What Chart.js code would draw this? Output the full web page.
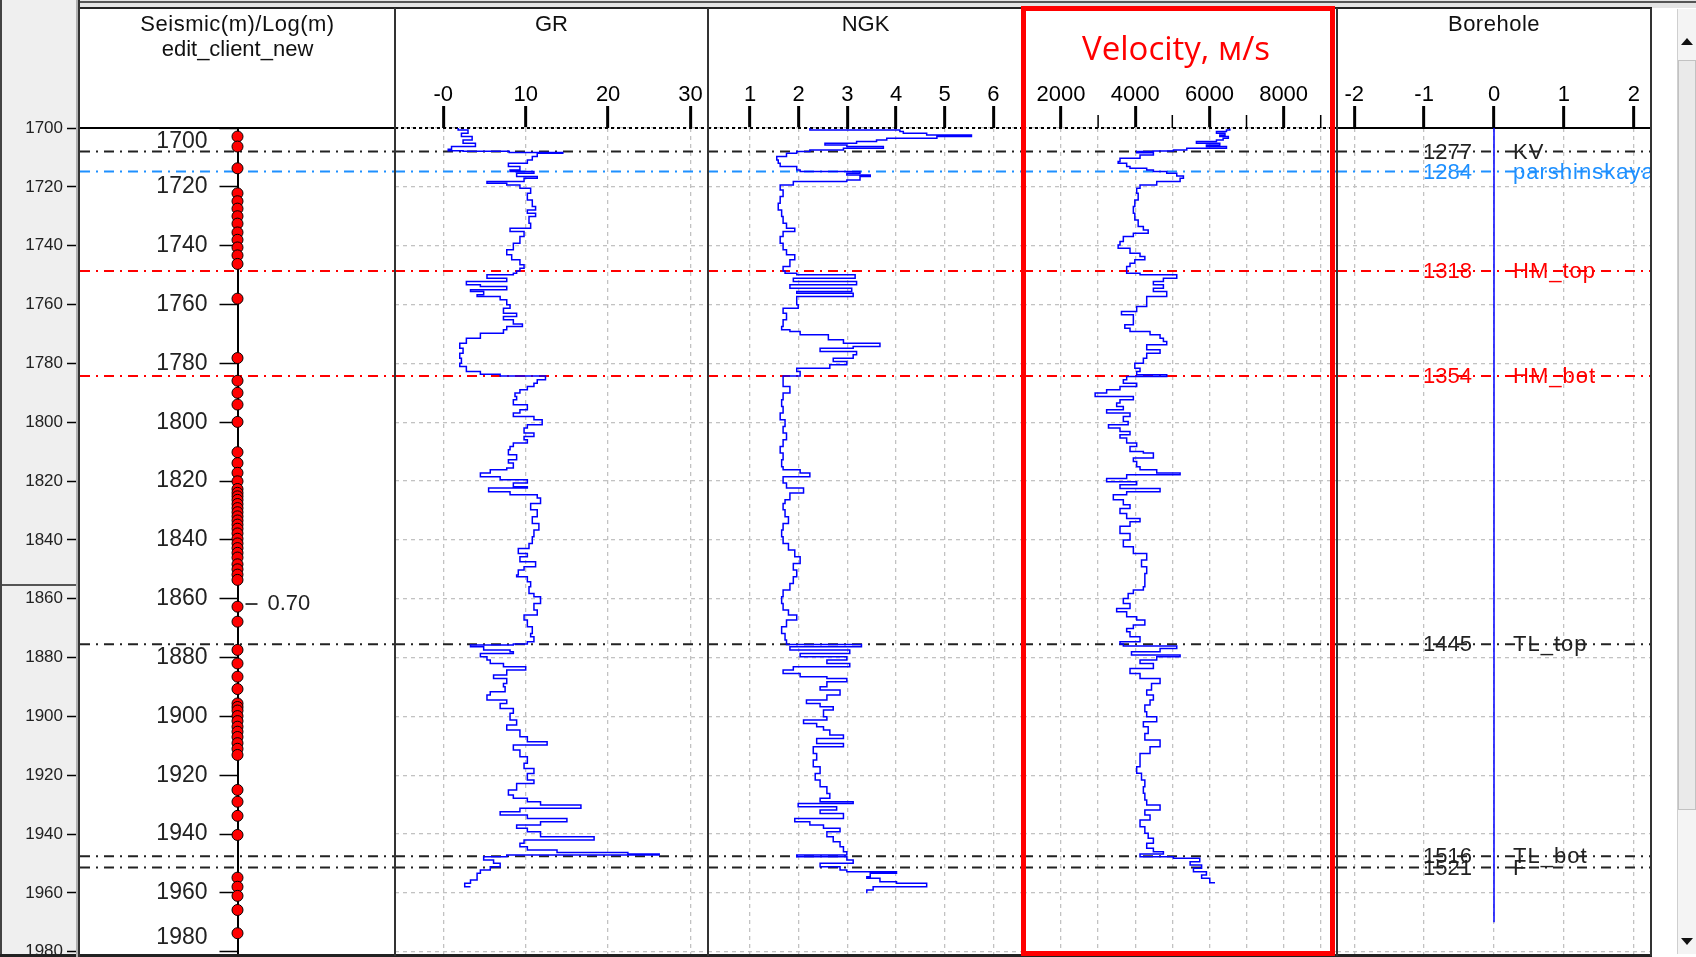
<!DOCTYPE html>
<html>
<head>
<meta charset="utf-8">
<title>Well log</title>
<script src="https://cdn.jsdelivr.net/npm/chart.js@4.4.1/dist/chart.umd.min.js"></script>
<style>
  html, body { margin: 0; padding: 0; }
  body { width: 1696px; height: 957px; position: relative; overflow: hidden; background: #fff; font-family: 'Liberation Sans', Arial, sans-serif; }
  canvas, .box, .hdr { position: absolute; }
  .hdr { top: 13px; font-size: 22px; line-height: 22px; text-align: center; color: #111; white-space: nowrap; }
  .sep { position: absolute; top: 8px; width: 2px; height: 948px; background: #333; }
</style>
</head>
<body>
  <!-- window chrome -->
  <div class="box" style="left:0;top:0;width:1696px;height:8px;background:#e4e4e4"></div>
  <div class="box" style="left:0;top:1px;width:1696px;height:2px;background:#555"></div>
  <div class="box" style="left:0;top:0;width:80px;height:957px;background:#efefef"></div>
  <div class="box" style="left:0;top:0;width:2px;height:957px;background:#444"></div>
  <div class="box" style="left:2px;top:584px;width:76px;height:2px;background:#555"></div>

  <canvas id="seis" width="395" height="957" style="left:0;top:0"></canvas>
  <canvas id="gr" width="313" height="957" style="left:395px;top:0"></canvas>
  <canvas id="ngk" width="315" height="957" style="left:708px;top:0"></canvas>
  <canvas id="vel" width="314" height="957" style="left:1023px;top:0"></canvas>
  <canvas id="bore" width="314" height="957" style="left:1337px;top:0"></canvas>

  <!-- frame -->
  <div class="box" style="left:80px;top:7px;width:1572px;height:2px;background:#222"></div>
  <div class="box" style="left:0;top:954px;width:1652px;height:3px;background:#222"></div>
  <div class="box" style="left:76px;top:0;width:2px;height:957px;background:#b0b0b0"></div>
  <div class="sep" style="left:78px;top:0;height:957px;background:#333"></div>
  <div class="sep" style="left:394px"></div>
  <div class="sep" style="left:707px"></div>
  <div class="sep" style="left:1022px"></div>
  <div class="sep" style="left:1336px"></div>
  <div class="sep" style="left:1650px"></div>

  <!-- scrollbar -->
  <div class="box" style="left:1677px;top:9px;width:19px;height:945px;background:#f4f4f4;border-left:1px solid #cfcfcf"></div>
  <div class="box" style="left:1678px;top:60px;width:16px;height:748px;background:#eaeaea;border:1px solid #c2c2c2"></div>
  <div class="box" style="left:1681px;top:38px;width:0;height:0;border-left:6px solid transparent;border-right:6px solid transparent;border-bottom:7px solid #111"></div>
  <div class="box" style="left:1681px;top:938px;width:0;height:0;border-left:6px solid transparent;border-right:6px solid transparent;border-top:7px solid #111"></div>

  <!-- headers -->
  <div class="hdr" style="left:80px;width:315px;letter-spacing:0.5px">Seismic(m)/Log(m)</div>
  <div class="hdr" style="left:80px;width:315px;top:38px">edit_client_new</div>
  <div class="hdr" style="left:395px;width:313px">GR</div>
  <div class="hdr" style="left:708px;width:315px">NGK</div>
  <div class="hdr" style="left:1337px;width:314px;letter-spacing:0.5px">Borehole</div>
  <div class="hdr" style="left:1019px;width:314px;top:31px;font-family:'Open Sans',sans-serif;font-size:33px;line-height:33px;color:#ff0000">Velocity, м/s</div>

  <div class="box" style="left:1021px;top:6px;width:314px;height:950px;box-sizing:border-box;border:5px solid #ff0000"></div>

<script>
Chart.defaults.font.family = "'Liberation Sans', Arial, sans-serif";
Chart.defaults.color = '#000';

// depth window
const depthTop = 1700;
const depthBase = 1981.1;
const depthTicks = [1700, 1720, 1740, 1760, 1780, 1800, 1820, 1840, 1860, 1880, 1900, 1920, 1940, 1960, 1980];

// formation tops
const topNames = ['KV', 'parshinskaya', 'HM_top', 'HM_bot', 'TL_top', 'TL_bot', 'F'];
const topDepths = [1708.0, 1714.8, 1748.6, 1784.3, 1875.5, 1947.5, 1951.4];
const topTvd = ['1277', '1284', '1318', '1354', '1445', '1516', '1521'];
const topColors = ['#222', '#1e90ff', '#ff0000', '#ff0000', '#222', '#222', '#222'];

// seismic / log tie points
const seisDepth = [1702.9, 1706.3, 1713.7, 1722.2, 1724.9, 1727.4, 1730.0, 1732.5, 1735.5, 1738.0, 1740.6, 1743.3, 1746.2,
  1758.0, 1778.2, 1785.9, 1790.0, 1794.0, 1799.9, 1810.2, 1813.9, 1817.2, 1820.1, 1822.7, 1824.0, 1825.2, 1826.4,
  1827.8, 1829.2, 1830.6, 1832.0, 1833.4, 1834.8, 1836.2, 1837.8, 1839.6, 1841.2, 1842.8, 1844.4, 1846.0, 1848.3,
  1850.0, 1851.8, 1853.6, 1862.7, 1867.8, 1877.4, 1882.0, 1886.5, 1890.7, 1895.6, 1896.8, 1898.0, 1899.9, 1901.6,
  1903.5, 1905.2, 1907.0, 1909.1, 1911.0, 1913.1, 1925.0, 1929.0, 1933.8, 1940.3, 1954.8, 1957.9, 1961.0, 1965.8, 1973.7];
const seisNoteDepth = 1861.8;
const seisNoteText = '0.70';

// GR
const grTicks = [0, 10, 20, 30];
const grLabels = ['-0', '10', '20', '30'];
const grDepth = [1700.0, 1700.7, 1701.8, 1702.9, 1704.1, 1705.2, 1706.3, 1707.2, 1707.7, 1707.9,
  1708.3, 1708.6, 1709.7, 1710.9, 1712.0, 1713.1, 1714.3, 1714.8, 1715.4, 1716.5,
  1717.1, 1718.2, 1718.8, 1719.4, 1720.5, 1722.2, 1724.5, 1726.7, 1727.9, 1729.0,
  1730.1, 1732.4, 1734.1, 1735.2, 1736.9, 1739.2, 1741.4, 1743.1, 1744.8, 1746.5,
  1747.7, 1748.6, 1749.4, 1749.9, 1751.1, 1752.2, 1753.3, 1753.9, 1755.0, 1755.6,
  1756.7, 1757.3, 1758.4, 1760.1, 1761.3, 1763.0, 1764.1, 1765.2, 1766.6, 1767.5,
  1768.6, 1769.8, 1770.9, 1771.5, 1773.2, 1774.9, 1776.6, 1778.3, 1780.0, 1781.1,
  1782.8, 1783.7, 1784.3, 1785.6, 1786.8, 1787.9, 1789.0, 1790.1, 1791.3, 1792.4,
  1794.1, 1795.8, 1796.9, 1798.1, 1799.2, 1800.9, 1802.0, 1803.7, 1804.9, 1806.0,
  1807.1, 1808.3, 1809.4, 1811.1, 1812.8, 1813.9, 1815.6, 1816.2, 1817.3, 1818.5,
  1819.6, 1820.7, 1821.9, 1822.4, 1823.6, 1824.7, 1825.8,
  1827.6, 1829.8, 1832.1, 1834.4, 1836.6, 1838.9, 1841.2, 1842.9, 1844.6, 1845.7,
  1847.4, 1849.1, 1850.2, 1851.9, 1852.5, 1854.2, 1855.9, 1858.2, 1859.3, 1861.6,
  1863.8, 1865.5, 1867.2, 1869.5, 1871.8, 1872.9, 1874.6, 1875.4, 1875.7, 1876.3,
  1877.4, 1878.0, 1878.6, 1879.7, 1880.8, 1882.0, 1883.1, 1884.2, 1885.9, 1887.1,
  1888.8, 1889.9, 1891.6, 1892.7, 1894.4, 1895.6, 1897.3, 1898.9, 1901.2, 1902.9,
  1904.6, 1906.9, 1908.6, 1909.7, 1911.4, 1913.7, 1915.9, 1917.7, 1919.4, 1921.6,
  1922.8, 1925.0, 1926.7, 1927.8, 1929.0, 1930.1, 1931.2, 1932.4, 1933.5, 1934.7,
  1935.8, 1936.9, 1938.0, 1939.2, 1940.9, 1942.0, 1943.1, 1944.3, 1945.4, 1946.3,
  1946.8, 1947.1, 1947.7, 1948.8, 1949.9, 1951.1, 1952.2, 1953.3, 1954.5, 1955.6,
  1956.7, 1957.9];
const grValue = [1.8, 3.0, 2.2, 3.5, 2.4, 3.9, 1.0, 0.6, 2.4, 8.0,
  14.5, 11.4, 10.8, 10.2, 7.9, 9.3, 8.1, 11.0, 8.9, 11.4,
  9.8, 5.3, 7.7, 9.3, 10.6, 10.2, 10.8, 11.2, 10.2, 11.2,
  10.4, 10.6, 8.1, 9.8, 9.3, 8.5, 7.7, 8.3, 9.3, 9.8,
  9.3, 8.9, 8.5, 5.3, 7.7, 2.8, 4.5, 7.7, 3.3, 4.9,
  4.1, 6.9, 7.7, 8.1, 7.3, 8.9, 7.3, 8.5, 9.6, 7.7,
  7.3, 4.5, 4.5, 2.8, 2.0, 2.4, 2.0, 2.2, 2.0, 2.8,
  4.5, 6.9, 12.4, 11.4, 11.0, 10.2, 9.3, 8.7, 8.9, 8.5,
  10.2, 9.3, 8.5, 11.0, 12.0, 10.2, 9.8, 11.0, 9.8, 10.2,
  8.5, 8.1, 7.9, 8.9, 7.9, 8.5, 7.7, 5.7, 4.5, 6.9,
  10.2, 8.5, 10.2, 5.5, 8.1, 11.4, 11.8,
  10.6, 11.4, 10.8, 11.6, 11.0, 10.8, 10.4, 9.1, 10.2, 9.3,
  11.2, 9.8, 9.1, 8.9, 10.2, 10.6, 10.4, 11.0, 11.8, 11.0,
  11.4, 9.8, 10.2, 10.8, 10.6, 11.0, 10.2, 8.5, 3.3, 4.9,
  8.1, 8.5, 4.5, 5.3, 5.7, 7.3, 10.0, 7.7, 6.1, 7.7,
  7.3, 7.5, 5.7, 5.3, 7.7, 6.9, 8.5, 8.1, 8.9, 7.7,
  9.3, 10.2, 12.6, 8.5, 9.3, 10.2, 9.8, 11.0, 10.2, 11.0,
  8.9, 7.9, 8.5, 10.2, 11.8, 16.7, 9.3, 6.9, 10.2, 15.0,
  11.8, 8.9, 10.2, 11.8, 18.3, 9.8, 9.3, 10.2, 13.8, 22.4,
  26.2, 7.7, 4.9, 6.1, 6.9, 5.7, 4.5, 4.1, 4.1, 3.3,
  2.6, 3.3];

// NGK
const ngkTicks = [1, 2, 3, 4, 5, 6];
const ngkLabels = ['1', '2', '3', '4', '5', '6'];
const ngkDepth = [1700.0, 1700.7, 1701.2, 1701.8, 1702.4, 1702.9, 1703.5, 1704.1, 1704.6, 1705.2,
  1705.8, 1706.3, 1706.9, 1707.5, 1708.0, 1708.6, 1709.7, 1710.9, 1712.0, 1713.1,
  1714.3, 1714.8, 1715.4, 1716.0, 1716.5, 1717.7, 1718.2, 1719.4, 1721.1, 1723.3,
  1725.6, 1727.9, 1730.1, 1732.4, 1734.1, 1735.2, 1736.9, 1739.2, 1741.4, 1743.1,
  1744.8, 1747.1, 1748.6, 1749.4, 1749.9, 1751.1, 1752.2, 1753.3, 1754.5, 1755.6,
  1756.2, 1757.3, 1758.4, 1760.1, 1761.3, 1763.0, 1765.2, 1767.5, 1768.6, 1769.2,
  1770.3, 1772.0, 1773.2, 1774.3, 1774.9, 1776.0, 1777.1, 1778.3, 1779.4, 1780.5,
  1781.7, 1782.8, 1784.3, 1785.6, 1787.9, 1790.1, 1792.4, 1794.7, 1796.9, 1799.2,
  1801.5, 1803.7, 1806.0, 1808.3, 1810.5, 1812.8, 1815.1, 1816.2, 1817.3, 1818.5,
  1820.7, 1822.4, 1824.1, 1826.4,
  1827.6, 1829.8, 1832.1, 1834.4, 1836.6, 1838.9, 1841.2, 1843.4, 1845.7, 1848.0,
  1850.2, 1852.5, 1854.8, 1857.0, 1859.3, 1861.6, 1863.8, 1865.5, 1867.2, 1869.5,
  1871.8, 1874.0, 1875.6, 1876.3, 1877.4, 1878.6, 1879.7, 1880.8, 1882.0, 1883.1,
  1884.2, 1885.4, 1886.5, 1887.1, 1888.2, 1889.9, 1891.0, 1892.7, 1894.4, 1895.6,
  1896.7, 1897.8, 1900.1, 1901.2, 1902.4, 1903.5, 1904.6, 1906.3, 1907.5, 1909.2,
  1910.3, 1912.6, 1914.8, 1917.1, 1919.4, 1921.6, 1923.9, 1926.2, 1927.8, 1929.0,
  1929.6, 1930.7, 1931.8, 1933.0, 1934.7, 1935.8, 1936.9, 1938.0, 1939.2, 1940.9,
  1942.6, 1944.3, 1946.0, 1947.1, 1947.7, 1948.8, 1949.9, 1951.1, 1952.2, 1952.8,
  1953.3, 1954.5, 1955.0, 1956.2, 1956.7, 1957.9, 1959.0, 1960.1];
const ngkValue = [2.23, 4.08, 4.15, 4.63, 5.55, 4.84, 3.81, 3.60, 3.19, 2.54,
  2.99, 3.74, 2.92, 2.23, 1.96, 1.75, 1.55, 1.58, 1.62, 1.96,
  2.03, 3.26, 2.99, 3.47, 3.26, 2.99, 1.89, 1.62, 1.68, 1.62,
  1.58, 1.65, 1.68, 1.75, 1.92, 1.68, 1.62, 1.68, 1.75, 1.92,
  1.82, 1.68, 1.72, 1.96, 3.16, 1.89, 3.19, 1.82, 3.09, 1.96,
  3.12, 1.96, 1.96, 1.99, 1.68, 1.75, 1.68, 1.65, 1.82, 2.03,
  2.61, 2.92, 3.67, 3.12, 2.44, 3.19, 3.12, 2.71, 2.99, 2.64,
  1.96, 2.03, 1.68, 1.68, 1.82, 1.68, 1.65, 1.68, 1.62, 1.72,
  1.68, 1.75, 1.68, 1.62, 1.68, 1.65, 1.68, 2.03, 2.23, 1.68,
  1.75, 2.10, 1.82, 1.72,
  1.68, 1.72, 1.79, 1.68, 1.65, 1.68, 1.79, 1.92, 2.03, 1.89,
  1.96, 1.89, 1.82, 1.68, 1.65, 1.68, 1.79, 1.96, 1.75, 1.65,
  1.72, 1.75, 3.29, 1.82, 3.05, 2.03, 2.99, 2.58, 3.05, 1.89,
  1.68, 2.03, 2.58, 2.99, 2.58, 2.44, 2.85, 2.58, 2.16, 2.44,
  2.71, 2.51, 2.58, 2.10, 2.37, 2.51, 2.64, 2.92, 2.37, 2.92,
  2.30, 2.37, 2.30, 2.44, 2.34, 2.44, 2.58, 2.64, 2.44, 3.12,
  1.99, 2.78, 2.44, 2.92, 1.92, 2.23, 2.51, 2.85, 2.58, 2.71,
  2.85, 2.92, 2.99, 1.96, 2.99, 3.12, 2.44, 2.85, 2.99, 4.01,
  3.47, 3.40, 3.67, 4.01, 4.63, 3.53, 3.40, 3.40];

// Velocity, m/s
const velTicks = [1000, 2000, 3000, 4000, 5000, 6000, 7000, 8000, 9000];
const velLabels = ['', '2000', '', '4000', '', '6000', '', '8000', ''];
const velMinor = [1000, 3000, 5000, 7000, 9000];
const velDepth = [1700.2, 1700.7, 1701.2, 1701.8, 1702.4, 1702.9, 1703.5, 1704.1, 1704.6, 1705.2,
  1705.8, 1706.3, 1706.9, 1707.5, 1707.8, 1708.0, 1708.4, 1709.2, 1710.3, 1711.4,
  1712.0, 1713.1, 1713.7, 1714.3, 1714.8, 1715.4, 1716.3, 1717.1, 1718.2, 1719.4,
  1720.5, 1722.2, 1724.5, 1726.7, 1729.0, 1731.3, 1733.5, 1734.7, 1735.8, 1736.9,
  1738.6, 1739.8, 1740.9, 1742.6, 1743.7, 1744.8, 1746.0, 1747.1, 1748.6, 1749.4,
  1749.9, 1751.1, 1752.2, 1753.3, 1754.5, 1755.6, 1757.3, 1759.5, 1760.7, 1762.4,
  1763.5, 1765.2, 1766.9, 1768.1, 1769.2, 1770.3, 1771.5, 1772.6, 1773.7, 1775.4,
  1776.6, 1778.3, 1780.0, 1781.7, 1782.8, 1783.9, 1784.5, 1785.6, 1786.8, 1787.9,
  1789.0, 1790.1, 1791.3, 1792.4, 1793.5, 1794.7, 1795.8, 1796.9, 1798.1, 1799.8,
  1800.9, 1802.0, 1803.2, 1804.3, 1805.4, 1807.1, 1808.3, 1810.0, 1810.5, 1812.2,
  1813.4, 1815.1, 1816.2, 1817.3, 1817.9, 1819.1, 1820.2, 1821.3, 1822.5, 1823.6,
  1824.7, 1826.4, 1828.1, 1829.3, 1831.0, 1832.7, 1833.8, 1835.4,
  1837.8, 1840.0, 1842.3, 1844.6, 1846.8, 1849.1, 1851.4, 1853.6, 1855.9, 1857.0,
  1858.2, 1859.9, 1861.6, 1863.3, 1864.4, 1866.1, 1867.2, 1868.9, 1870.1, 1871.2,
  1872.9, 1874.6, 1875.4, 1876.1, 1876.9, 1878.0, 1879.1, 1879.7, 1880.8, 1882.0,
  1883.7, 1885.4, 1887.1, 1888.8, 1891.0, 1892.7, 1894.4, 1896.1, 1898.4, 1900.1,
  1901.8, 1903.5, 1905.8, 1908.0, 1910.3, 1912.6, 1914.8, 1917.1, 1919.3, 1921.6,
  1923.9, 1926.1, 1928.4, 1930.1, 1931.8, 1933.5, 1935.2, 1937.5, 1939.7, 1941.4,
  1943.1, 1944.8, 1946.0, 1946.8, 1947.7, 1948.2, 1949.4, 1950.5, 1951.6, 1952.8,
  1953.9, 1955.0, 1956.5];
const velValue = [6550, 6460, 6190, 6420, 6280, 6510, 6370, 6190, 5650, 6280,
  5920, 6460, 5390, 5030, 4490, 4040, 4490, 4130, 3590, 3540,
  3770, 3860, 4310, 4490, 4850, 5120, 5300, 5210, 4580, 4130,
  4040, 4080, 3990, 3950, 3990, 4080, 4220, 4350, 3950, 3680,
  3590, 3540, 3860, 4130, 4260, 3990, 3860, 3770, 3770, 4130,
  5120, 4760, 4490, 4760, 4490, 4850, 4310, 4310, 4040, 3630,
  3950, 3950, 3720, 3860, 4400, 4670, 4760, 4850, 4310, 4670,
  4310, 4220, 3990, 4130, 4040, 4850, 3770, 3680, 4040, 3590,
  3230, 2920, 3950, 3590, 3500, 3680, 3230, 3860, 3680, 3810,
  3280, 3590, 3860, 3590, 3770, 4040, 3860, 4220, 4490, 3950,
  4040, 4130, 4580, 5210, 3770, 3230, 4040, 3590, 4670, 3770,
  3410, 3680, 3860, 3590, 3770, 4130, 3860, 3590,
  3860, 3680, 3950, 4310, 4170, 4310, 4260, 4260, 4220, 3950,
  3810, 3680, 3860, 3500, 3770, 4040, 4260, 3950, 3770, 3860,
  4130, 3590, 3680, 5120, 4670, 3900, 5210, 4580, 4130, 4490,
  3860, 4130, 4670, 4440, 4310, 4490, 4400, 4260, 4310, 4580,
  4220, 4350, 4260, 4670, 4400, 4130, 4130, 4040, 4170, 4260,
  4220, 4260, 4310, 4670, 4260, 4400, 4130, 4260, 4350, 4490,
  4310, 4490, 4760, 4130, 5030, 5740, 5480, 5790, 5570, 5920,
  5790, 6010, 6150];

// Borehole
const boreTicks = [-2, -1, 0, 1, 2];
const boreLabels = ['-2', '-1', '0', '1', '2'];
const boreDepth = [1700, 1970];
const boreOffset = [0, 0];

const gridColor = '#c2c2c2';
const topDash = [10, 6, 2, 6];
const fixTicks = (vals) => (s) => { s.ticks = vals.map(v => ({ value: v })); };
const noPad = (s) => { s.paddingTop = 0; s.paddingBottom = 0; s.paddingLeft = 0; s.paddingRight = 0; };

function curve(depths, values) {
  return {
    data: depths.map((d, i) => ({ x: values[i], y: d })),
    xAxisID: 'x', yAxisID: 'y', showLine: true, stepped: 'after',
    pointRadius: 0, borderColor: '#0000ff', borderWidth: 1.5, order: 0,
  };
}

function formationLines(xMin, xMax, yId) {
  return topDepths.map((d, i) => ({
    data: [{ x: xMin, y: d }, { x: xMax, y: d }],
    xAxisID: 'x', yAxisID: yId, showLine: true, pointRadius: 0, clip: false,
    borderColor: topColors[i], borderWidth: 2, borderDash: topDash, order: 2,
  }));
}

function windowTop(xMin, xMax, yId, dash) {
  return {
    data: [{ x: xMin, y: depthTop }, { x: xMax, y: depthTop }],
    xAxisID: 'x', yAxisID: yId, showLine: true, pointRadius: 0, clip: false,
    borderColor: '#000', borderWidth: 2, borderDash: dash, order: 3,
  };
}

const baseOptions = (padTop) => ({
  responsive: false, animation: false, events: [],
  layout: { padding: { top: padTop, bottom: 2, left: 0, right: 0 }, autoPadding: false },
  plugins: { legend: { display: false }, tooltip: { enabled: false } },
});

// formation names and depths in the borehole track
const topLabels = {
  id: 'topLabels',
  afterDatasetsDraw(chart) {
    const { ctx, scales: { x, y } } = chart;
    const x0 = x.getPixelForValue(0);
    ctx.save();
    ctx.textBaseline = 'middle';
    topNames.forEach((name, i) => {
      const py = y.getPixelForValue(topDepths[i]) + 1;
      ctx.fillStyle = topColors[i];
      ctx.font = "22px 'Liberation Sans', Arial, sans-serif";
      ctx.letterSpacing = '0px';
      ctx.textAlign = 'right';
      ctx.fillText(topTvd[i], x0 - 22, py);
      ctx.letterSpacing = '1px';
      ctx.textAlign = 'left';
      ctx.fillText(name, x0 + 19, py);
    });
    ctx.restore();
  },
};

// short unlabelled ticks on the velocity scale
const minorTicks = {
  id: 'minorTicks',
  afterDraw(chart) {
    const s = chart.scales.x, ctx = chart.ctx;
    ctx.save();
    ctx.strokeStyle = '#000';
    ctx.lineWidth = 1.5;
    velMinor.forEach(v => {
      const px = s.getPixelForValue(v);
      ctx.beginPath();
      ctx.moveTo(px, s.bottom - 13);
      ctx.lineTo(px, s.bottom);
      ctx.stroke();
    });
    ctx.restore();
  },
};

const seisNote = {
  id: 'seisNote',
  afterDatasetsDraw(chart) {
    const { ctx, scales: { x, yp } } = chart;
    const px = x.getPixelForValue(0), py = yp.getPixelForValue(seisNoteDepth);
    ctx.save();
    ctx.strokeStyle = '#000';
    ctx.lineWidth = 1.5;
    ctx.beginPath();
    ctx.moveTo(px + 8, py);
    ctx.lineTo(px + 20, py);
    ctx.stroke();
    ctx.font = "22px 'Liberation Sans', Arial, sans-serif";
    ctx.fillStyle = '#222';
    ctx.textBaseline = 'middle';
    ctx.fillText(seisNoteText, px + 30, py);
    ctx.restore();
  },
};

function track(id, o) {
  return new Chart(document.getElementById(id), {
    type: 'scatter',
    data: { datasets: [...o.series, windowTop(o.min, o.max, 'y', o.topDash), ...formationLines(o.min, o.max, 'y')] },
    options: {
      ...baseOptions(0),
      scales: {
        x: {
          type: 'linear', position: 'top', min: o.min, max: o.max,
          afterBuildTicks: fixTicks(o.ticks),
          afterFit: s => { s.height = 128; noPad(s); },
          ticks: { callback: (v, i) => o.labels[i], font: { size: 22 }, color: '#000', padding: -2, maxRotation: 0, autoSkip: false },
          grid: {
            color: gridColor, lineWidth: 1.3, tickLength: 22, tickColor: '#000', tickBorderDash: [],
            tickWidth: c => (o.minor && o.minor.includes(c.tick.value) ? 0 : 3),
            borderDash: [4, 4],
          },
          border: { display: false, dash: [4, 4] },
        },
        y: {
          type: 'linear', reverse: true, min: depthTop, max: depthBase,
          afterBuildTicks: fixTicks(depthTicks),
          afterFit: s => { s.width = 0; noPad(s); },
          ticks: { display: false },
          grid: { color: gridColor, lineWidth: 1.3, drawTicks: false, borderDash: [4, 4] },
          border: { display: false, dash: [4, 4] },
        },
      },
    },
    plugins: o.plugins || [],
  });
}

// Seismic / log depth panel with the outer depth gutter
new Chart(document.getElementById('seis'), {
  type: 'scatter',
  data: {
    datasets: [
      {
        data: seisDepth.map(d => ({ x: 0, y: d })), xAxisID: 'x', yAxisID: 'yp', showLine: false, clip: false,
        pointRadius: 5.5, pointBackgroundColor: '#ff0000', pointBorderColor: '#000', pointBorderWidth: 1, order: 0,
      },
      windowTop(-1, 1, 'yp', []),
      ...formationLines(-1, 1, 'yp'),
    ],
  },
  options: {
    ...baseOptions(128),
    scales: {
      x: { type: 'linear', display: false, min: 0, max: 1 },
      yg: {
        axis: 'y', type: 'linear', position: 'left', weight: 2, reverse: true, min: depthTop, max: depthBase,
        afterBuildTicks: fixTicks(depthTicks),
        afterFit: s => { s.width = 80; noPad(s); },
        ticks: { font: { size: 17 }, color: '#222', padding: 4, callback: v => String(v) },
        grid: { drawOnChartArea: false, tickLength: 13, tickWidth: 1.5, tickColor: '#000' },
        border: { display: false },
      },
      yp: {
        axis: 'y', type: 'linear', position: 'left', weight: 1, reverse: true, min: depthTop, max: depthBase,
        afterBuildTicks: fixTicks(depthTicks),
        afterFit: s => { s.width = 157.5; noPad(s); },
        ticks: {
          font: { size: 23 }, color: '#222', padding: 12,
          callback: v => (v === depthTicks[0] ? ['', String(v)] : v === depthTicks[depthTicks.length - 1] ? [String(v), ''] : String(v)),
        },
        grid: { drawOnChartArea: false, tickLength: 18, tickWidth: 1.5, tickColor: '#000' },
        border: { display: true, color: '#000', width: 2 },
      },
    },
  },
  plugins: [seisNote],
});

track('gr', { min: -5.86, max: 32.12, ticks: grTicks, labels: grLabels, topDash: [3, 3], series: [curve(grDepth, grValue)] });
track('ngk', { min: 0.137, max: 6.609, ticks: ngkTicks, labels: ngkLabels, topDash: [3, 3], series: [curve(ngkDepth, ngkValue)] });
track('vel', { min: 975.7, max: 9439, ticks: velTicks, labels: velLabels, minor: velMinor, topDash: [3, 3], series: [curve(velDepth, velValue)], plugins: [minorTicks] });
track('bore', {
  min: -2.246, max: 2.246, ticks: boreTicks, labels: boreLabels, topDash: [],
  series: [{
    data: boreDepth.map((d, i) => ({ x: boreOffset[i], y: d })), xAxisID: 'x', yAxisID: 'y',
    showLine: true, pointRadius: 0, borderColor: '#0000ff', borderWidth: 1.5, order: 0,
  }],
  plugins: [topLabels],
});
</script>
</body>
</html>
